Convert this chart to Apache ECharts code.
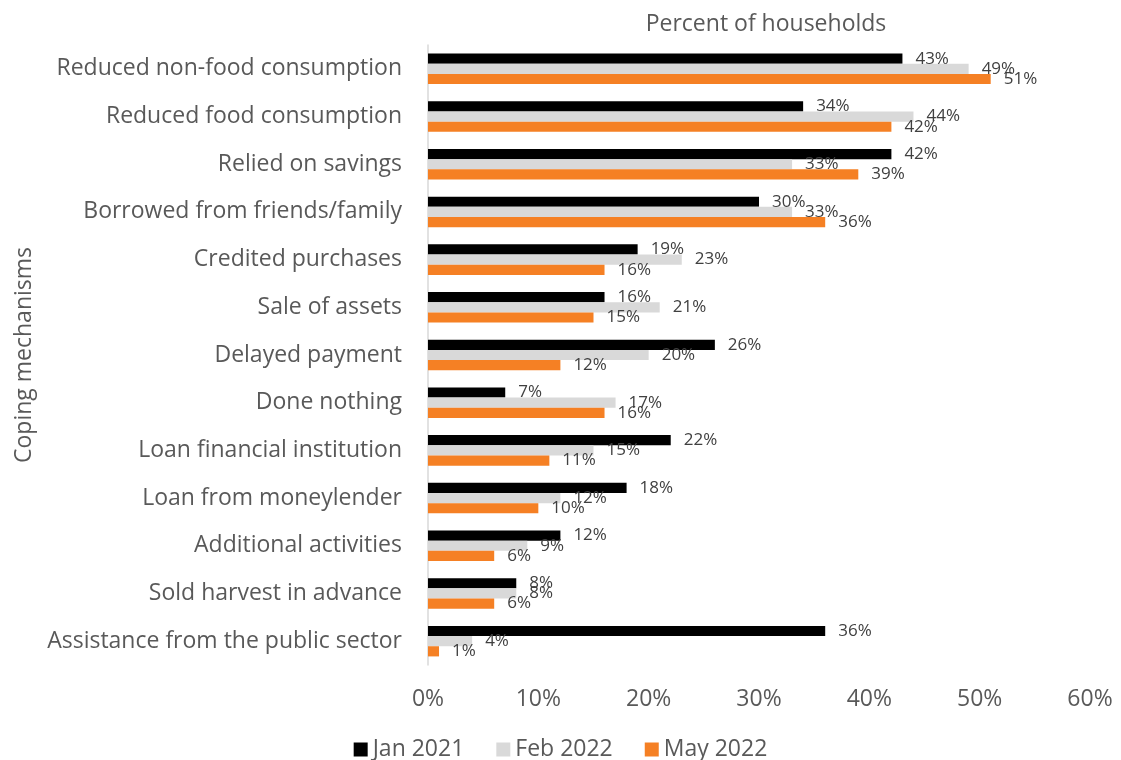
<!DOCTYPE html>
<html>
<head>
<meta charset="utf-8">
<script src="https://cdn.jsdelivr.net/npm/echarts@6/dist/echarts.min.js"></script>
<style>
  html, body { margin: 0; padding: 0; background: #fff; }
  #chart { width: 1121px; height: 760px; }
</style>
</head>
<body>
<div id="chart"></div>
<script>
// Coping mechanisms reported by households, three survey rounds (percent)
const categories = [
  'Reduced non-food consumption',
  'Reduced food consumption',
  'Relied on savings',
  'Borrowed from friends/family',
  'Credited purchases',
  'Sale of assets',
  'Delayed payment',
  'Done nothing',
  'Loan financial institution',
  'Loan from moneylender',
  'Additional activities',
  'Sold harvest in advance',
  'Assistance from the public sector'
];
const jan2021 = [43, 34, 42, 30, 19, 16, 26, 7, 22, 18, 12, 8, 36];
const feb2022 = [49, 44, 33, 33, 23, 21, 20, 17, 15, 12, 9, 8, 4];
const may2022 = [51, 42, 39, 36, 16, 15, 12, 16, 11, 10, 6, 6, 1];
const seriesNames = ['Jan 2021', 'Feb 2022', 'May 2022'];
const seriesColors = ['#000000', '#d9d9d9', '#f58024'];

const FONT = '"Open Sans", "Noto Sans", sans-serif';
const TEXT = '#595959';

const chart = echarts.init(document.getElementById('chart'));

function barSeries(name, data, color) {
  return {
    name: name,
    type: 'bar',
    data: data,
    barGap: '0%',
    barCategoryGap: '36%',
    itemStyle: { color: color },
    label: {
      show: true,
      position: 'right',
      distance: 13,
      formatter: '{c}%',
      color: '#404040',
      fontFamily: FONT,
      fontSize: 17
    },
    emphasis: { disabled: true }
  };
}

chart.setOption({
  animation: false,
  title: {
    text: 'Percent of households',
    left: 761,
    top: 8,
    textAlign: 'center',
    textStyle: { color: TEXT, fontFamily: FONT, fontSize: 23, fontWeight: 'normal' }
  },
  legend: {
    top: 733,
    left: 'center',
    itemWidth: 14,
    itemHeight: 14,
    itemGap: 32,
    icon: 'rect',
    textStyle: { color: TEXT, fontFamily: FONT, fontSize: 23 },
    data: seriesNames
  },
  grid: { left: 428, right: 31, top: 45, bottom: 95 },
  xAxis: {
    type: 'value',
    min: 0,
    max: 60,
    interval: 10,
    axisLine: { show: false },
    axisTick: { show: false },
    splitLine: { show: false },
    axisLabel: {
      formatter: '{value}%',
      color: TEXT,
      fontFamily: FONT,
      fontSize: 23,
      margin: 23
    }
  },
  yAxis: {
    type: 'category',
    data: categories,
    inverse: true,
    name: 'Coping mechanisms',
    nameLocation: 'middle',
    nameGap: 390,
    nameRotate: 90,
    nameTextStyle: { color: TEXT, fontFamily: FONT, fontSize: 23 },
    axisLine: { show: true, lineStyle: { color: '#d9d9d9', width: 1.5 } },
    axisTick: { show: false },
    axisLabel: { color: TEXT, fontFamily: FONT, fontSize: 23, margin: 26 }
  },
  series: [
    barSeries(seriesNames[0], jan2021, seriesColors[0]),
    barSeries(seriesNames[1], feb2022, seriesColors[1]),
    barSeries(seriesNames[2], may2022, seriesColors[2])
  ]
});
</script>
</body>
</html>
